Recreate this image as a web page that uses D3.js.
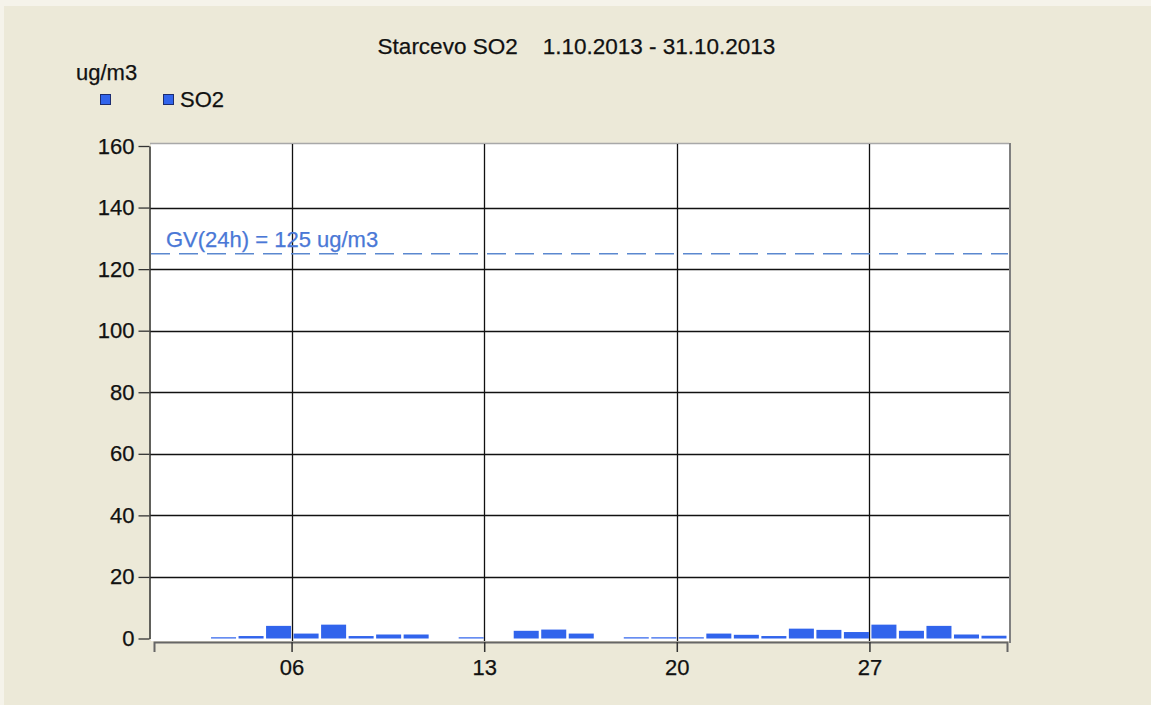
<!DOCTYPE html>
<html>
<head>
<meta charset="utf-8">
<script src="https://cdn.jsdelivr.net/npm/d3@7"></script>
<style>
  html, body { margin: 0; padding: 0; background: #f5f3ea; }
  svg { display: block; }
  text { font-family: "Liberation Sans", Arial, sans-serif; }
</style>
</head>
<body>
<svg id="chart" width="1151" height="705"></svg>
<script>
// ---- data ----
const days = d3.range(1, 32);
const so2Values = [null, null, 0.4, 0.8, 4.1, 1.6, 4.5, 0.8, 1.3, 1.3,
                   null, 0.4, null, 2.5, 2.9, 1.6, null, 0.4, 0.4, 0.4,
                   1.6, 1.2, 0.8, 3.2, 2.8, 2.1, 4.5, 2.5, 4.1, 1.3, 0.9];
const yTicks = [0, 20, 40, 60, 80, 100, 120, 140, 160];
const xTickDays = [6, 13, 20, 27];
const xTickLabels = ["06", "13", "20", "27"];
const limitValue = 125;
const limitLabel = "GV(24h) = 125 ug/m3";
const titleText = "Starcevo SO2    1.10.2013 - 31.10.2013";
const unitText = "ug/m3";
const seriesName = "SO2";

const svg = d3.select("#chart");

// background
svg.append("rect").attr("x", 4).attr("y", 6).attr("width", 1147).attr("height", 699)
  .attr("fill", "#ece9d8");

// scales
const x = d3.scaleLinear().domain([1, 32]).range([154, 1007]);
const y = d3.scaleLinear().domain([0, 160]).range([638.5, 146]);

// plot area
svg.append("rect").attr("x", 151).attr("y", 144).attr("width", 858).attr("height", 497)
  .attr("fill", "#ffffff");
svg.append("line").attr("x1", 150).attr("x2", 1009).attr("y1", 143.5).attr("y2", 143.5)
  .attr("stroke", "#a8a8a8").attr("stroke-width", 1.5);
svg.append("line").attr("x1", 1010).attr("x2", 1010).attr("y1", 143).attr("y2", 643)
  .attr("stroke", "#808080").attr("stroke-width", 2);

// horizontal gridlines
svg.append("g").selectAll("line").data(yTicks.filter(v => v > 0 && v < 160)).join("line")
  .attr("x1", 150).attr("x2", 1009)
  .attr("y1", d => Math.round(y(d)) + 0.5).attr("y2", d => Math.round(y(d)) + 0.5)
  .attr("stroke", "#111").attr("stroke-width", 1.3);

// vertical gridlines
svg.append("g").selectAll("line").data(xTickDays).join("line")
  .attr("x1", d => Math.round(x(d)) + 0.5).attr("x2", d => Math.round(x(d)) + 0.5)
  .attr("y1", 144).attr("y2", 641)
  .attr("stroke", "#111").attr("stroke-width", 1.3);

// limit line
svg.append("line").attr("x1", 151).attr("x2", 1008)
  .attr("y1", y(limitValue)).attr("y2", y(limitValue))
  .attr("stroke", "#5b88cf").attr("stroke-width", 1.5)
  .attr("stroke-dasharray", "19,9");
svg.append("text").attr("x", 166).attr("y", 246.5)
  .attr("font-size", 22).attr("fill", "#4a78d6")
  .attr("stroke", "#4a78d6").attr("stroke-width", 0.25).text(limitLabel);

// bars
const barData = days.map((d, i) => ({ day: d, v: so2Values[i] })).filter(d => d.v != null);
svg.append("g").selectAll("rect").data(barData).join("rect")
  .attr("x", d => x(d.day) + 2)
  .attr("width", d => x(d.day + 1) - x(d.day) - 2.5)
  .attr("y", d => y(d.v))
  .attr("height", d => y(0) - y(d.v))
  .attr("fill", "#3164ec");

// y axis
const yAxis = svg.append("g").attr("transform", "translate(149.5,0)")
  .call(d3.axisLeft(y).tickValues(yTicks).tickSize(11).tickSizeOuter(0).tickPadding(4));
yAxis.select(".domain").attr("stroke", "#333").attr("stroke-width", 1.5);
yAxis.selectAll(".tick line").attr("stroke", "#333").attr("stroke-width", 1.3);
yAxis.selectAll("text").attr("font-size", 22).attr("fill", "#111")
  .attr("stroke", "#111").attr("stroke-width", 0.25)
  .attr("font-family", "Liberation Sans, Arial, sans-serif");

// x axis
const xAxis = svg.append("g").attr("transform", "translate(0,642)")
  .call(d3.axisBottom(x).tickValues(xTickDays).tickFormat((d, i) => xTickLabels[i])
    .tickSize(10).tickSizeOuter(10).tickPadding(7));
xAxis.select(".domain").attr("stroke", "#666").attr("stroke-width", 2);
xAxis.selectAll(".tick line").attr("stroke", "#333").attr("stroke-width", 1.5);
xAxis.selectAll("text").attr("font-size", 22).attr("fill", "#111")
  .attr("stroke", "#111").attr("stroke-width", 0.25)
  .attr("font-family", "Liberation Sans, Arial, sans-serif");

// title
svg.append("text").attr("x", 576.5).attr("y", 54).attr("text-anchor", "middle")
  .attr("font-size", 22.5).attr("fill", "#111").attr("stroke", "#111").attr("stroke-width", 0.25)
  .style("white-space", "pre")
  .text(titleText);

// unit label
svg.append("text").attr("x", 76).attr("y", 80).attr("font-size", 22).attr("fill", "#111")
  .attr("stroke", "#111").attr("stroke-width", 0.25)
  .text(unitText);

// legend
const legendItems = [{ sx: 100, label: "" }, { sx: 163, label: seriesName }];
const lg = svg.append("g").selectAll("g").data(legendItems).join("g");
lg.append("rect").attr("x", d => d.sx + 0.5).attr("y", 94.5).attr("width", 10).attr("height", 10)
  .attr("fill", "#3164ec").attr("stroke", "#1c2c70").attr("stroke-width", 1);
lg.append("text").attr("x", d => d.sx + 17).attr("y", 106.5).attr("font-size", 22)
  .attr("fill", "#111").attr("stroke", "#111").attr("stroke-width", 0.25).text(d => d.label);
</script>
</body>
</html>
